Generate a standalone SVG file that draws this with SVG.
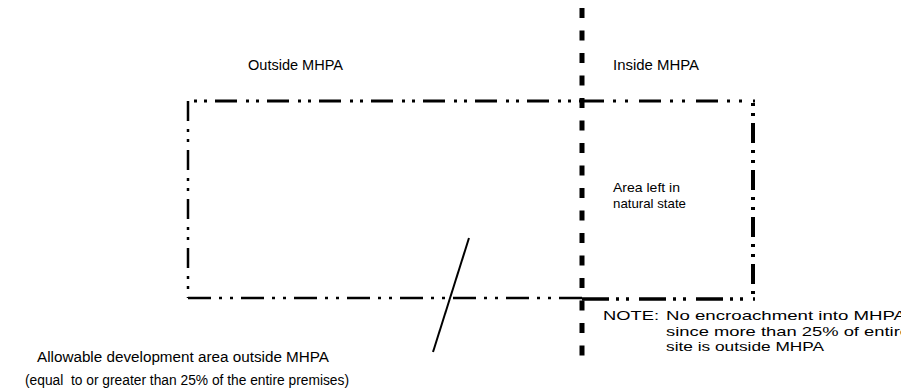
<svg xmlns="http://www.w3.org/2000/svg" width="901" height="392" viewBox="0 0 901 392">
<style>
text{font-family:"Liberation Sans",Arial,sans-serif;font-size:14px;fill:#000}
.note{font-size:13px}
.ln{fill:none;stroke:#000;stroke-linecap:butt}
</style>
<rect width="901" height="392" fill="#fff"/>
<g id="connectors">
<line id="mhpa-boundary" class="ln" x1="582" y1="8" x2="582" y2="356" stroke-width="5" stroke-dasharray="10 12.5"/>
<line class="ln" x1="188" y1="101" x2="582" y2="101" stroke-width="3" stroke-dasharray="3 7 3 8 22 9" stroke-dashoffset="-6"/>
<line class="ln" x1="582" y1="101" x2="755" y2="101" stroke-width="3" stroke-dasharray="22 9 3 9 3 11"/>
<line class="ln" x1="188" y1="101" x2="188" y2="298" stroke-width="2.5" stroke-dasharray="3 7 3 8 20 8" stroke-dashoffset="-28"/>
<line class="ln" x1="753" y1="101" x2="753" y2="300" stroke-width="4" stroke-dasharray="3 7 3 7 20 7" stroke-dashoffset="-2"/>
<line class="ln" x1="188" y1="298" x2="582" y2="298" stroke-width="2.5" stroke-dasharray="23 8 3 8 3 8"/>
<line class="ln" x1="582" y1="299" x2="755" y2="299" stroke-width="3.5" stroke-dasharray="27 7 3 7 3 10"/>
<line id="leader" class="ln" x1="469" y1="238" x2="433" y2="352" stroke-width="2"/>
</g>
<g id="outside-label"><text x="248" y="70" textLength="95" lengthAdjust="spacingAndGlyphs">Outside MHPA</text></g>
<g id="inside-label"><text x="613" y="70" textLength="86" lengthAdjust="spacingAndGlyphs">Inside MHPA</text></g>
<g id="natural-area"><text x="613" y="192" style="font-size:13px" textLength="67" lengthAdjust="spacingAndGlyphs">Area left in</text><text x="613" y="208" style="font-size:13px" textLength="73" lengthAdjust="spacingAndGlyphs">natural state</text></g>
<g id="note"><text class="note" x="603" y="320" textLength="56" lengthAdjust="spacingAndGlyphs">NOTE:</text><text class="note" x="666" y="320" textLength="240" lengthAdjust="spacingAndGlyphs">No encroachment into MHPA</text><text class="note" x="666" y="335.5" textLength="244" lengthAdjust="spacingAndGlyphs">since more than 25% of entire</text><text class="note" x="666" y="351" textLength="158" lengthAdjust="spacingAndGlyphs">site is outside MHPA</text></g>
<g id="dev-area"><text x="37" y="362" textLength="292" lengthAdjust="spacingAndGlyphs">Allowable development area outside MHPA</text><text x="25" y="385" textLength="324" lengthAdjust="spacingAndGlyphs" xml:space="preserve">(equal  to or greater than 25% of the entire premises)</text></g>
</svg>
